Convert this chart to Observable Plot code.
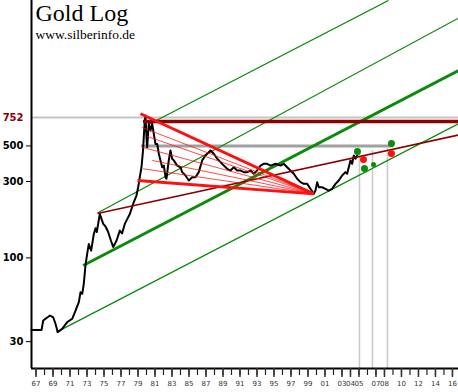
<!DOCTYPE html>
<html><head><meta charset="utf-8">
<script src="https://cdn.jsdelivr.net/npm/d3@7"></script>
<script src="https://cdn.jsdelivr.net/npm/@observablehq/plot@0.6"></script>
<style>html,body{margin:0;padding:0;background:#fff;} #chart svg{display:block;}</style>
</head><body><div id="chart"></div>
<script>
const title = "Gold Log";
const subtitle = "www.silberinfo.de";

// gold price (USD/oz)
const priceYears = [1966.47,1967.65,1967.85,1968.12,1968.65,1969.02,1969.29,1969.56,1970.08,1970.67,1971.26,1971.65,1972.04,1972.24,1972.44,1972.62,1972.82,1973.02,1973.21,1973.49,1973.80,1974.00,1974.15,1974.51,1974.91,1975.18,1975.49,1975.82,1976.08,1976.47,1976.86,1977.12,1977.45,1977.76,1978.04,1978.44,1978.82,1979.02,1979.21,1979.41,1979.59,1979.76,1979.88,1980.02,1980.08,1980.27,1980.47,1980.67,1980.86,1981.06,1981.26,1981.45,1981.65,1981.85,1982.04,1982.24,1982.35,1982.62,1982.82,1983.02,1983.21,1983.61,1984.00,1984.20,1984.59,1984.98,1985.38,1985.76,1986.15,1986.55,1986.94,1987.53,1987.92,1988.32,1988.71,1989.09,1989.49,1989.88,1990.27,1990.67,1991.06,1991.45,1991.85,1992.24,1992.62,1993.02,1993.41,1993.80,1994.20,1994.59,1995.18,1995.76,1996.15,1996.55,1996.94,1997.33,1997.73,1998.12,1998.51,1998.91,1999.29,1999.68,1999.88,2000.08,2000.27,2000.67,2001.06,2001.45,2001.85,2002.24,2002.62,2003.02,2003.41,2003.61,2003.80,2004.00,2004.20,2004.39,2004.59,2004.79];
const priceValues = [35.5,35.5,40.7,41.7,43.7,42.6,38.8,34.4,36.1,39.7,41.7,46.9,52.9,61.1,59.7,68.9,89.7,106,122,111,141,153,145,188,163,157,145,128,117,128,148,142,163,176,188,218,245,276,319,368,468,671,774,540,491,687,624,687,595,515,515,447,406,368,377,319,312,406,468,416,406,377,368,343,327,304,319,319,343,406,436,468,447,416,396,377,360,351,368,351,351,343,343,351,335,351,377,387,387,377,387,377,387,368,351,335,312,297,290,290,270,251,263,297,276,276,270,263,270,290,304,327,343,335,368,406,387,436,416,436];

// axis ticks
const yTickValues = [30, 100, 300, 500];
const yTickLabels = ["30", "100", "300", "500"];
const markValue = 752;
const markLabel = "752";
const xTickYears = [1967,1969,1971,1973,1975,1977,1979,1981,1983,1985,1987,1989,1991,1993,1995,1997,1999,2001,2003,2004,2005,2007,2008,2010,2012,2014,2016];
const xTickLabels = ["67","69","71","73","75","77","79","81","83","85","87","89","91","93","95","97","99","01","03","04","05","07","08","10","12","14","16"];
const xMinorYears = d3.range(1967, 2017);

// green up-trend channel lines (thin)
const channelStartYears = [1969.41, 1974.24, 1980.24];
const channelStartPrices = [34.4, 190.7, 680];
const channelEndYears = [2016.71, 2016.71, 2008.47];
const channelEndPrices = [687, 3140, 4044];
// green main support line (thick)
const supportStartYear = [1972.55], supportStartPrice = [89.7];
const supportEndYear = [2016.71], supportEndPrice = [1479];

// dark red resistance line
const resistStartYear = [1974.24], resistStartPrice = [189.3];
const resistEndYear = [2016.71], resistEndPrice = [585];
// dark red horizontal line
const topLevel = 710, topLevelStart = 1979.65;
// gray horizontal line near 500
const midLevel = 500, midLevelStart = 1979.41, midLevelEnd = 2009.06;

// red fan lines to the 1999 low
const fanApexYear = 1999.68, fanApexPrice = 251;
const fanThickYears = [1979.29, 1978.94];
const fanThickPrices = [794, 304];
const fanThinYears = [1979.49, 1980.08, 1979.49, 1980.67, 1979.6];
const fanThinPrices = [652, 573, 491, 406, 360];

// vertical gray markers
const vYears = [2005.06, 2006.59, 2008.35];
const vTops = [448, 468, 481];

// forecast dots
const greenDotYears = [2004.82, 2005.65, 2008.82];
const greenDotPrices = [461, 361, 518];
const smallDotYears = [2006.71];
const smallDotPrices = [383];
const redDotYears = [2005.53, 2008.82];
const redDotPrices = [411, 448];

const xDomain = [1966.47, 2016.71];
const yDomain = [20.4, 4044];

const price = priceYears.map((y, i) => ({year: y, price: priceValues[i]}));
const channels = channelStartYears.map((y, i) => ({x1: y, y1: channelStartPrices[i], x2: channelEndYears[i], y2: channelEndPrices[i]}));
const support = supportStartYear.map((y, i) => ({x1: y, y1: supportStartPrice[i], x2: supportEndYear[i], y2: supportEndPrice[i]}));
const resist = resistStartYear.map((y, i) => ({x1: y, y1: resistStartPrice[i], x2: resistEndYear[i], y2: resistEndPrice[i]}));
const fanThick = fanThickYears.map((y, i) => ({x1: y, y1: fanThickPrices[i], x2: fanApexYear, y2: fanApexPrice}));
const fanThin = fanThinYears.map((y, i) => ({x1: y, y1: fanThinPrices[i], x2: fanApexYear, y2: fanApexPrice}));
const verts = vYears.map((y, i) => ({x: y, top: vTops[i]}));
const gDots = greenDotYears.map((y, i) => ({x: y, y: greenDotPrices[i]}));
const sDots = smallDotYears.map((y, i) => ({x: y, y: smallDotPrices[i]}));
const rDots = redDotYears.map((y, i) => ({x: y, y: redDotPrices[i]}));
const xLabel = new Map(xTickYears.map((y, i) => [y, xTickLabels[i]]));
const yLabel = new Map(yTickValues.map((v, i) => [v, yTickLabels[i]]));

const green = "#0b8a0b", maroon = "#8b0000", red = "#ff1010";

const chart = Plot.plot({
  width: 458, height: 392,
  marginLeft: 31, marginRight: 0, marginTop: 0, marginBottom: 24,
  style: {background: "#fff", fontFamily: "DejaVu Sans, sans-serif"},
  x: {domain: xDomain, axis: null},
  y: {type: "log", domain: yDomain, axis: null},
  marks: [
    Plot.ruleY([markValue], {stroke: "#c4c4c4", strokeWidth: 2}),
    Plot.ruleY([midLevel], {x1: midLevelStart, x2: midLevelEnd, stroke: "#a0a0a0", strokeWidth: 3}),
    Plot.ruleX(verts, {x: "x", y1: yDomain[0], y2: "top", stroke: "#c8c8c8", strokeWidth: 1.5}),
    Plot.link(channels, {x1: "x1", y1: "y1", x2: "x2", y2: "y2", stroke: green, strokeWidth: 1.3}),
    Plot.link(support, {x1: "x1", y1: "y1", x2: "x2", y2: "y2", stroke: green, strokeWidth: 3}),
    Plot.line(price, {x: "year", y: "price", stroke: "#000", strokeWidth: 2}),
    Plot.link(resist, {x1: "x1", y1: "y1", x2: "x2", y2: "y2", stroke: maroon, strokeWidth: 1.5}),
    Plot.ruleY([topLevel], {x1: topLevelStart, x2: xDomain[1], stroke: maroon, strokeWidth: 3.5}),
    Plot.link(fanThin, {x1: "x1", y1: "y1", x2: "x2", y2: "y2", stroke: red, strokeWidth: 1, strokeOpacity: 0.75}),
    Plot.link(fanThick, {x1: "x1", y1: "y1", x2: "x2", y2: "y2", stroke: red, strokeWidth: 3}),
    Plot.dot(gDots, {x: "x", y: "y", r: 3.5, fill: green, stroke: null}),
    Plot.dot(sDots, {x: "x", y: "y", r: 2.5, fill: green, stroke: null}),
    Plot.dot(rDots, {x: "x", y: "y", r: 3.5, fill: red, stroke: null}),
    Plot.ruleX([xDomain[0]], {stroke: "#000", strokeWidth: 2}),
    Plot.ruleY([yDomain[0]], {stroke: "#000", strokeWidth: 2}),
    Plot.axisX(xMinorYears, {tickSize: 7, tickFormat: () => "", stroke: "#222", strokeWidth: 1.2}),
    Plot.axisX(xTickYears, {tickSize: 9, tickPadding: 4, tickFormat: d => xLabel.get(d), fontSize: 7, color: "#333", strokeWidth: 1.5}),
    Plot.axisY(yTickValues, {tickSize: 5, tickPadding: 3, tickFormat: d => yLabel.get(d), fontSize: 10, fontWeight: "bold", color: "#000"}),
    Plot.text([markValue], {y: d => d, text: () => markLabel, frameAnchor: "left", dx: -8, textAnchor: "end", fontSize: 10, fontWeight: "bold", fill: maroon}),
    Plot.text([title], {text: d => d, frameAnchor: "top-left", dx: 4, dy: 3, fontFamily: "Liberation Serif", fontSize: 24, fill: "#000"}),
    Plot.text([subtitle], {text: d => d, frameAnchor: "top-left", dx: 4, dy: 29, fontFamily: "Liberation Serif", fontSize: 13.5, fill: "#000"})
  ]
});
document.getElementById("chart").append(chart);
</script>
</body></html>
